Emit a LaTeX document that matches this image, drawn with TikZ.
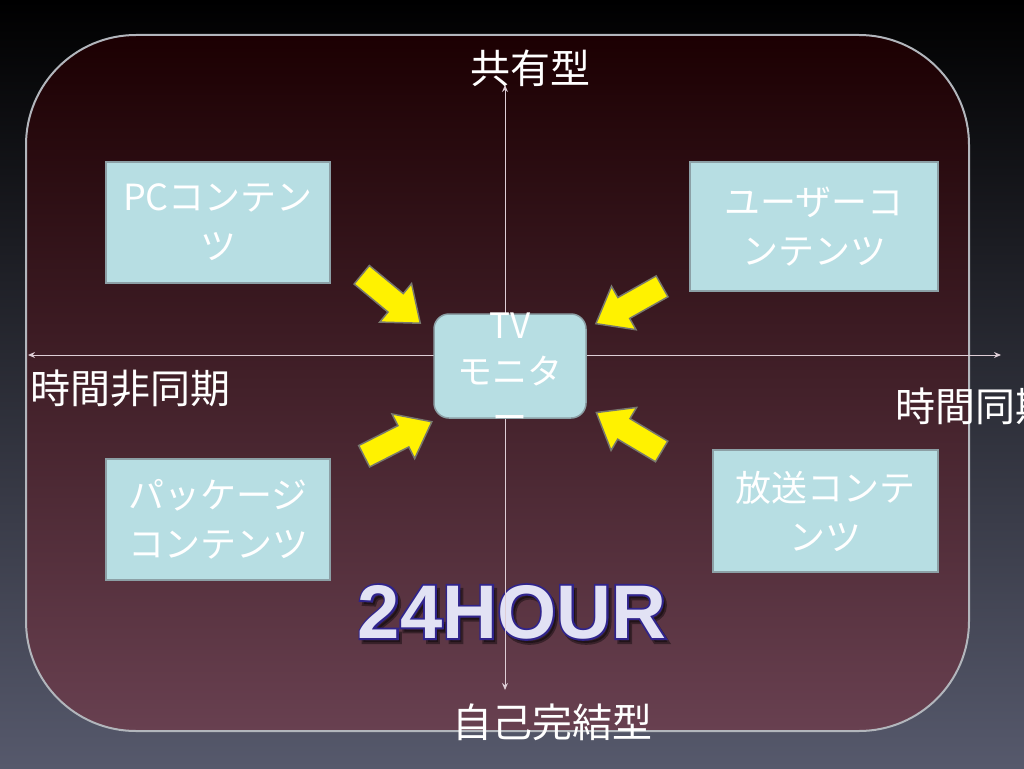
\documentclass[tikz,border=0pt]{standalone}
\usepackage{fontspec}
\setmainfont{Noto Sans CJK JP}
\newfontfamily\hourfont{Liberation Sans Bold}
\newfontfamily\hourthick{Liberation Sans Bold}[FakeBold=5]
\usetikzlibrary{arrows.meta}
\definecolor{boxfill}{RGB}{183,222,227}
\definecolor{boxline}{RGB}{140,160,166}
\definecolor{frameline}{RGB}{178,182,188}
\definecolor{axisline}{RGB}{222,206,214}
\definecolor{hourline}{RGB}{48,36,140}
\definecolor{hourfill}{RGB}{226,226,244}
\definecolor{arrline}{RGB}{120,120,110}
\newcommand{\yarrowpath}{(-38,-12) -- (6,-12) -- (6,-25) -- (38,0) -- (6,25) -- (6,12) -- (-38,12) -- cycle}
\begin{document}
\begin{tikzpicture}[x=1pt,y=1pt,
  lab/.style={text=white,inner sep=0pt,font=\fontsize{40}{44}\selectfont},
  cbox/.style={fill=boxfill,draw=boxline,line width=1.2pt,text=white,align=center,inner sep=0pt,font=\fontsize{36}{49}\selectfont},
  tvbox/.style={fill=boxfill,draw=boxline,line width=1.5pt,rounded corners=15pt,minimum width=152pt,minimum height=104pt,inner sep=0pt},
  yarrow/.style={fill=yellow,draw=arrline,line width=1.5pt,line join=miter},
  axisln/.style={draw=axisline,line width=1pt,{Stealth[length=7pt,width=6pt]}-{Stealth[length=7pt,width=6pt]}},
  hour/.style={inner sep=0pt,font=\hourfont\fontsize{76}{80}\selectfont},
  hourout/.style={inner sep=0pt,font=\hourthick\fontsize{76}{80}\selectfont}]
\clip (0,0) rectangle (1024,-768);
% background
\shade[top color=black,middle color={rgb,255:red,28;green,31;blue,44},bottom color={rgb,255:red,86;green,89;blue,108}] (0,0) rectangle (1024,-768);
% frame
\shadedraw[top color={rgb,255:red,28;green,0;blue,2},bottom color={rgb,255:red,104;green,64;blue,80},draw=frameline,line width=2pt,rounded corners=110pt] (26,-35) rectangle (969,-731);
% 24HOUR
\node[hourout,text=black,opacity=0.4] (hourshadow) at (515,-616) {24HOUR};
\node[hourout,text=hourline] (hourline) at (512,-612) {24HOUR};
\node[hour,text=hourfill] (hour) at (512,-612) {24HOUR};
% axes
\coordinate (ytop) at (505,-85);
\coordinate (ybot) at (505,-690);
\coordinate (xl) at (28,-355);
\coordinate (xr) at (1001,-355);
\draw[axisln] (ytop) -- (ybot);
\draw[axisln] (xl) -- (xr);
% content boxes
\node[cbox,minimum width=224pt,minimum height=121pt] (pc) at (218,-222.5) {PCコンテン\\ツ};
\node[cbox,minimum width=248pt,minimum height=129pt] (user) at (814,-226.5) {ユーザーコ\\ンテンツ};
\node[cbox,minimum width=224pt,minimum height=121pt] (pkg) at (218,-519.5) {パッケージ\\コンテンツ};
\node[cbox,minimum width=225pt,minimum height=122pt] (bcast) at (825.5,-511) {放送コンテ\\ンツ};
% TV
\node[tvbox] (tv) at (510,-366) {};
\node[text=white,align=center,inner sep=0pt,font=\fontsize{35}{46}\selectfont] (tvtext) at (510,-372) {TV\\モニタ\\ー};
% yellow arrows
\draw[yarrow,shift={(391,-299)},rotate=-39.6] \yarrowpath;
\draw[yarrow,shift={(629,-305)},rotate=209.4] \yarrowpath;
\draw[yarrow,shift={(398,-439)},rotate=27] \yarrowpath;
\draw[yarrow,shift={(629,-432)},rotate=149.2] \yarrowpath;
% axis labels
\node[lab] (share) at (530,-68) {共有型};
\node[lab] (self) at (552,-722) {自己完結型};
\node[lab,anchor=west] (async) at (30,-388) {時間非同期};
\node[lab,anchor=west] (sync) at (895,-406) {時間同期};
\end{tikzpicture}
\end{document}
